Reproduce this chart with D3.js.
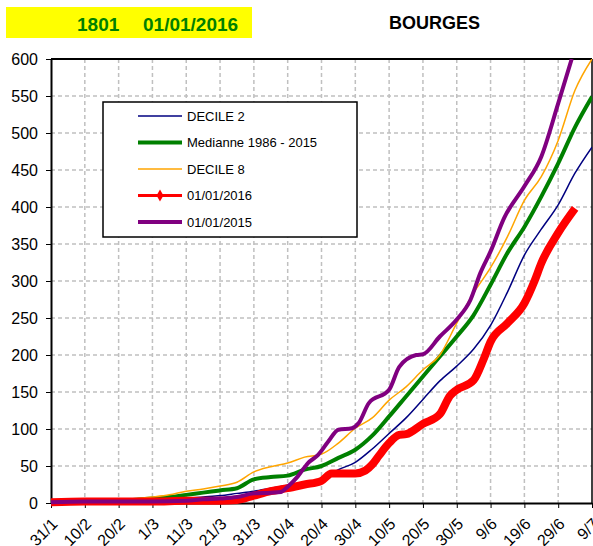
<!DOCTYPE html>
<html>
<head>
<meta charset="utf-8">
<script src="https://cdn.jsdelivr.net/npm/d3@7"></script>
<style>
body { margin: 0; background: #fff; }
svg { display: block; font-family: "Liberation Sans", Arial, sans-serif; }
</style>
</head>
<body>
<div id="chart"></div>
<script>
// reference series share these dates
var refDates = ["31/1","10/2","20/2","1/3","6/3","11/3","16/3","21/3","26/3","31/3","5/4","10/4","15/4","20/4","25/4","30/4","5/5","10/5","15/5","20/5","25/5","30/5","4/6","9/6","14/6","19/6","24/6","29/6","4/7","9/7"];
var decile2 = [0,1,2,4,5,6,8,10,13,16,20,24,28,33,45,55,73,94,115,140,165,185,208,240,285,335,370,403,446,481];
var mediane = [0,1,3,6,8,11,14,17,20,32,35,37,45,50,61,72,91,117,144,171,198,225,254,295,338,373,414,459,508,549];
var decile8 = [0,2,4,8,11,16,19,23,28,42,49,54,62,66,81,101,115,139,157,180,200,243,284,318,360,409,441,490,558,600];

var dates2016 = ["31/1","10/2","20/2","1/3","11/3","21/3","26/3","31/3","5/4","10/4","15/4","20/4","23/4","25/4","30/4","3/5","5/5","7/5","10/5","13/5","15/5","20/5","25/5","28/5","30/5","4/6","7/6","9/6","14/6","19/6","22/6","24/6","29/6","4/7"];
var vals2016 = [1,2,2,2,3,3,4,10,16,20,25,30,40,40,40,44,52,64,81,92,93,107,120,145,153,166,195,218,243,270,300,324,365,398];

var dates2015 = ["31/1","10/2","20/2","1/3","11/3","16/3","21/3","26/3","31/3","5/4","8/4","10/4","13/4","16/4","19/4","22/4","25/4","29/4","1/5","4/5","10/5","13/5","18/5","20/5","25/5","30/5","3/6","6/6","9/6","13/6","19/6","24/6","29/6","3/7"];
var vals2015 = [1,2,2,2,3,5,6,8,13,14,15,22,36,54,65,83,99,101,108,135,153,184,200,201,225,248,274,311,340,385,428,468,540,600];

var xTickLabels = ["31/1","10/2","20/2","1/3","11/3","21/3","31/3","10/4","20/4","30/4","10/5","20/5","30/5","9/6","19/6","29/6","9/7"];
var yTicks = [0,50,100,150,200,250,300,350,400,450,500,550,600];

var parse = function(s) {
  var p = s.split("/");
  return new Date(2016, +p[1] - 1, +p[0]);
};

var series = [
  {name: "DECILE 2", dates: refDates, values: decile2, color: "#000080", w: 1.5},
  {name: "Medianne 1986 - 2015", dates: refDates, values: mediane, color: "#008000", w: 4},
  {name: "DECILE 8", dates: refDates, values: decile8, color: "#FFA500", w: 1.5},
  {name: "01/01/2016", dates: dates2016, values: vals2016, color: "#FF0000", w: 8, marker: true},
  {name: "01/01/2015", dates: dates2015, values: vals2015, color: "#800080", w: 4}
];

var W = 593, H = 546;
var margin = {top: 59, right: 1, bottom: 43, left: 51},
width = W - margin.left - margin.right,
height = H - margin.top - margin.bottom;

var svg = d3.select("#chart")
.append("svg")
.attr("width", W)
.attr("height", H);

// title
svg.append("rect")
.attr("x", 6).attr("y", 7)
.attr("width", 246).attr("height", 31)
.attr("fill", "#FFFF00");
svg.append("text")
.attr("x", 77).attr("y", 31)
.attr("font-size", 19).attr("font-weight", "bold")
.attr("fill", "#008000")
.text("1801");
svg.append("text")
.attr("x", 143).attr("y", 31)
.attr("font-size", 19).attr("font-weight", "bold")
.attr("fill", "#008000")
.text("01/01/2016");
svg.append("text")
.attr("x", 389).attr("y", 29)
.attr("font-size", 18).attr("font-weight", "bold")
.attr("fill", "#000")
.text("BOURGES");

var g = svg.append("g")
.attr("transform", "translate(" + margin.left + "," + margin.top + ")");

var x = d3.scaleTime()
.domain([parse("31/1"), parse("9/7")])
.range([0, width]);
var y = d3.scaleLinear()
.domain([0, 600])
.range([height, 0]);

// grid
g.append("g")
.selectAll("line")
.data(yTicks.slice(1, -1))
.enter().append("line")
  .attr("x1", 0).attr("x2", width)
  .attr("y1", function(d) { return y(d); })
  .attr("y2", function(d) { return y(d); })
  .attr("stroke", "#c0c0c0").attr("stroke-width", 1.5)
  .attr("stroke-dasharray", "4,3");
g.append("g")
.selectAll("line")
.data(xTickLabels.slice(1, -1))
.enter().append("line")
  .attr("x1", function(d) { return x(parse(d)); })
  .attr("x2", function(d) { return x(parse(d)); })
  .attr("y1", 0).attr("y2", height)
  .attr("stroke", "#c0c0c0").attr("stroke-width", 1.5)
  .attr("stroke-dasharray", "4,3");

// top and right border
g.append("line").attr("x1", 0).attr("x2", width).attr("y1", 0).attr("y2", 0)
.attr("stroke", "#000").attr("stroke-width", 2);
g.append("line").attr("x1", width).attr("x2", width).attr("y1", 0).attr("y2", height)
.attr("stroke", "#000").attr("stroke-width", 1.5);

// axes
var yAxis = g.append("g")
.call(d3.axisLeft(y).tickValues(yTicks).tickSize(5).tickSizeOuter(0).tickPadding(8));
yAxis.select(".domain").attr("stroke-width", 2);
yAxis.selectAll("text").attr("font-size", 16).attr("fill", "#000")
.attr("font-family", "Liberation Sans, Arial, sans-serif");

var xAxis = g.append("g")
.attr("transform", "translate(0," + height + ")")
.call(d3.axisBottom(x)
  .tickValues(xTickLabels.map(parse))
  .tickFormat(d3.timeFormat("%-d/%-m"))
  .tickSize(5).tickSizeOuter(0));
xAxis.select(".domain").attr("stroke-width", 2);
xAxis.selectAll("text")
.attr("font-size", 16).attr("fill", "#000")
.attr("font-family", "Liberation Sans, Arial, sans-serif")
.attr("text-anchor", "end")
.attr("x", 0).attr("y", 0).attr("dy", 0)
.attr("transform", "translate(7,22) rotate(-45)");

// lines
var clip = g.append("clipPath").attr("id", "plot-clip")
.append("rect").attr("x", -10).attr("y", 0).attr("width", width + 10).attr("height", height + 10);

var line = d3.line()
.x(function(d) { return x(d.date); })
.y(function(d) { return y(d.value); })
.curve(d3.curveMonotoneX);

var lines = g.append("g").attr("clip-path", "url(#plot-clip)");
series.forEach(function(s) {
  var pts = s.dates.map(function(d, i) { return {date: parse(d), value: s.values[i]}; });
  lines.append("path")
    .datum(pts)
    .attr("fill", "none")
    .attr("stroke", s.color)
    .attr("stroke-width", s.w)
    .attr("stroke-linejoin", "round")
    .attr("d", line);
});

// legend
var lg = svg.append("g");
lg.append("rect")
.attr("x", 103).attr("y", 102)
.attr("width", 254).attr("height", 135)
.attr("fill", "#fff").attr("stroke", "#000").attr("stroke-width", 1.5);
series.forEach(function(s, i) {
  var ly = 116 + i * 26.5;
  lg.append("line")
    .attr("x1", 138).attr("x2", 182)
    .attr("y1", ly).attr("y2", ly)
    .attr("stroke", s.color)
    .attr("stroke-width", s.marker ? 3 : Math.min(s.w, 4));
  if (s.marker) {
    lg.append("path")
      .attr("d", d3.symbol().type(d3.symbolDiamond).size(40))
      .attr("transform", "translate(160," + ly + ")")
      .attr("fill", s.color);
  }
  lg.append("text")
    .attr("x", 187).attr("y", ly)
    .attr("dy", "0.35em")
    .attr("font-size", 13)
    .text(s.name);
});
</script>
</body>
</html>
